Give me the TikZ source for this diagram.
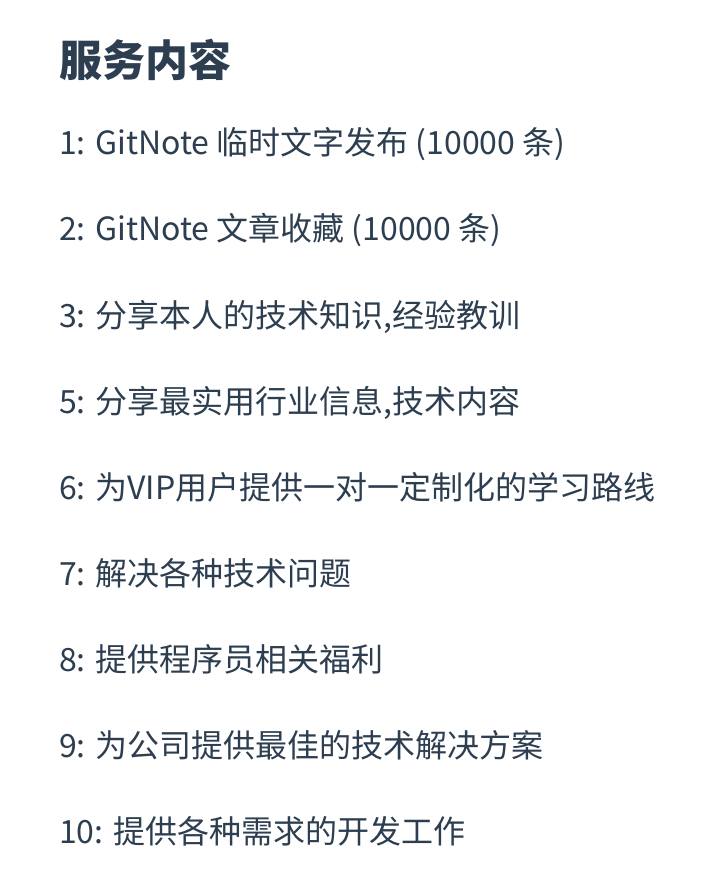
\documentclass[tikz,border=0pt]{standalone}
\usepackage{fontspec}
\setmainfont{Noto Sans CJK SC}
\definecolor{ink}{HTML}{2C3E50}

\begin{document}
\begin{tikzpicture}[x=1pt,y=-1pt,
  title/.style={anchor=base west, inner sep=0pt, text=ink, font=\fontsize{43}{50}\selectfont\bfseries},
  item/.style={anchor=base west, inner sep=0pt, text=ink, font=\fontsize{32}{38}\selectfont}]
\useasboundingbox (0,0) rectangle (712,890);
\node[title] (head) at (59,77) {服务内容};
\node[item] (s1) at (59,155) {1: GitNote 临时文字发布 (10000 条)};
\node[item] (s2) at (59,241) {2: GitNote 文章收藏 (10000 条)};
\node[item] (s3) at (59,327) {3: 分享本人的技术知识,经验教训};
\node[item] (s5) at (59,413) {5: 分享最实用行业信息,技术内容};
\node[item] (s6) at (59,499) {6: 为VIP用户提供一对一定制化的学习路线};
\node[item] (s7) at (59,585) {7: 解决各种技术问题};
\node[item] (s8) at (59,671) {8: 提供程序员相关福利};
\node[item] (s9) at (59,757) {9: 为公司提供最佳的技术解决方案};
\node[item] (s10) at (59,843) {10: 提供各种需求的开发工作};
\end{tikzpicture}
\end{document}
